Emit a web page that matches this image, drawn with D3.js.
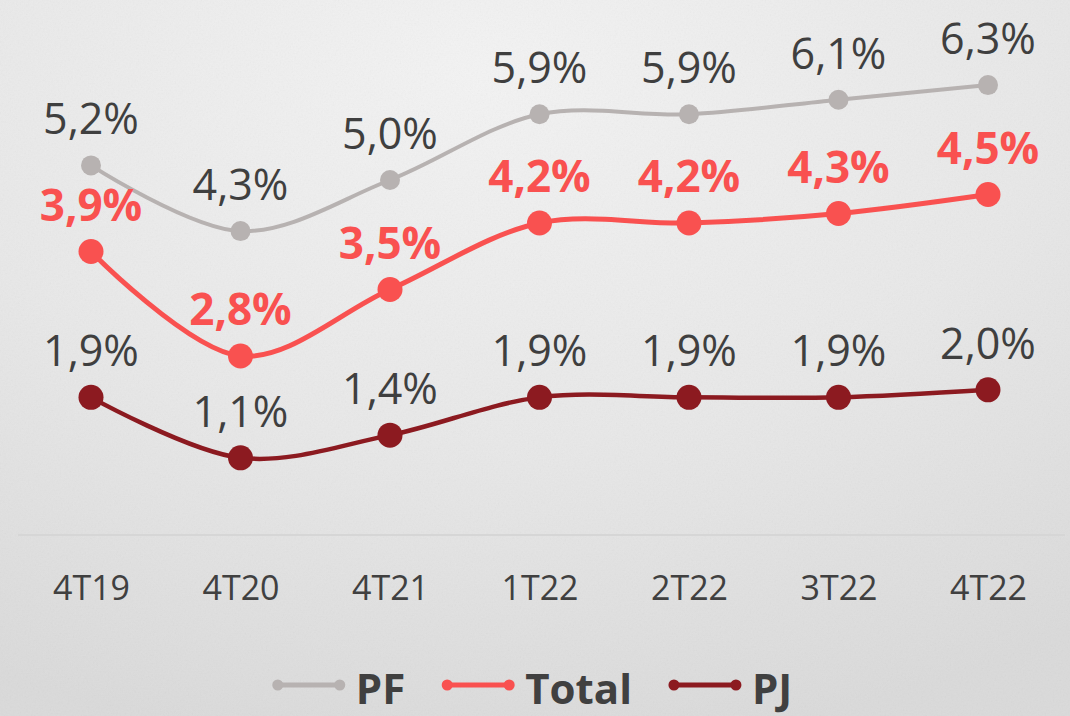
<!DOCTYPE html>
<html>
<head>
<meta charset="utf-8">
<title>Inadimplência PF / Total / PJ</title>
<script src="https://d3js.org/d3.v7.min.js"></script>
<style>
  html, body { margin: 0; padding: 0; background: #e9e9e9; }
  svg { display: block; font-family: "Open Sans", "Noto Sans", sans-serif; }
</style>
</head>
<body>
<div id="chart"></div>
<script>
// dados
const categories = ["4T19", "4T20", "4T21", "1T22", "2T22", "3T22", "4T22"];
const pf    = [5.2, 4.3, 5.0, 5.9, 5.9, 6.1, 6.3];
const total = [3.9, 2.8, 3.5, 4.2, 4.2, 4.3, 4.5];
const pj    = [1.9, 1.1, 1.4, 1.9, 1.9, 1.9, 2.0];

const width = 1070, height = 716;

const svg = d3.select("#chart").append("svg")
    .attr("width", width)
    .attr("height", height);

// fundo com gradiente + textura
const defs = svg.append("defs");
const grad = defs.append("radialGradient")
    .attr("id", "bg").attr("cx", "45%").attr("cy", "10%").attr("r", "95%");
grad.append("stop").attr("offset", "0%").attr("stop-color", "#f3f3f3");
grad.append("stop").attr("offset", "55%").attr("stop-color", "#e8e8e8");
grad.append("stop").attr("offset", "100%").attr("stop-color", "#dadada");

const noise = defs.append("filter").attr("id", "noise")
    .attr("x", 0).attr("y", 0).attr("width", "100%").attr("height", "100%");
noise.append("feTurbulence")
    .attr("type", "fractalNoise").attr("baseFrequency", 0.6).attr("numOctaves", 2);
noise.append("feColorMatrix").attr("type", "saturate").attr("values", 0);

svg.append("rect").attr("width", width).attr("height", height).attr("fill", "url(#bg)");
svg.append("rect").attr("width", width).attr("height", height)
    .attr("filter", "url(#noise)").attr("opacity", 0.08);

// escalas
const x = d3.scalePoint().domain(categories).range([91, 988]);
const yPF = d3.scaleLinear().domain([0, 7]).range([545, 34]);
const yTotal = d3.scaleLinear().domain([0, 5]).range([622, 147]);
const yPJ = d3.scaleLinear().domain([0, 2.5]).range([541, 352]);

const br = d3.formatLocale({ decimal: ",", thousands: ".", grouping: [3], currency: ["R$", ""] });
const fmt = v => br.format(".1f")(v) + "%";

// linha de base
svg.append("line")
    .attr("x1", 18).attr("x2", 1065)
    .attr("y1", 535).attr("y2", 535)
    .attr("stroke", "#d6d6d6").attr("stroke-width", 2);

// eixo x
const xAxis = svg.append("g")
    .attr("transform", "translate(0,600)")
    .call(d3.axisBottom(x).tickSize(0).tickPadding(0));
xAxis.select(".domain").remove();
xAxis.selectAll("text")
    .attr("dy", 0)
    .attr("fill", "#404040")
    .style("font-size", "34px")
    .style("font-family", "'Open Sans', sans-serif");

const series = [
    { name: "PF", values: pf, y: yPF, color: "#b7b2b1", width: 4, r: 10, label: "#3f3f3f", weight: 400 },
    { name: "Total", values: total, y: yTotal, color: "#f95150", width: 5, r: 12.5, label: "#f95150", weight: 700 },
    { name: "PJ", values: pj, y: yPJ, color: "#8c1a20", width: 4.5, r: 12.5, label: "#3f3f3f", weight: 400 }
];

series.forEach(s => {
    const line = d3.line()
        .x((d, i) => x(categories[i]))
        .y(d => s.y(d))
        .curve(d3.curveCatmullRom.alpha(0.5));

    const g = svg.append("g");
    g.append("path")
        .datum(s.values)
        .attr("d", line)
        .attr("fill", "none")
        .attr("stroke", s.color)
        .attr("stroke-width", s.width);

    g.selectAll("circle")
        .data(s.values)
        .enter().append("circle")
        .attr("cx", (d, i) => x(categories[i]))
        .attr("cy", d => s.y(d))
        .attr("r", s.r)
        .attr("fill", s.color);

    g.selectAll("text")
        .data(s.values)
        .enter().append("text")
        .attr("x", (d, i) => x(categories[i]))
        .attr("y", d => s.y(d) - 31)
        .attr("text-anchor", "middle")
        .attr("fill", s.label)
        .style("font-size", s.weight === 700 ? "44px" : "43px")
        .style("font-weight", s.weight)
        .text(d => fmt(d));
});

// legenda
const legend = svg.append("g");
let lx = 0;
series.forEach((s, i) => {
    const item = legend.append("g").attr("transform", `translate(${lx},0)`);
    item.append("line")
        .attr("x1", 0).attr("x2", 62).attr("y1", 0).attr("y2", 0)
        .attr("stroke", s.color).attr("stroke-width", 5);
    item.selectAll("circle").data([0, 62]).enter().append("circle")
        .attr("cx", d => d).attr("cy", 0).attr("r", 5.5).attr("fill", s.color);
    const t = item.append("text")
        .attr("x", 78).attr("y", 19)
        .attr("fill", "#404040")
        .style("font-size", "42px")
        .style("font-weight", 700)
        .text(s.name);
    lx += 78 + t.node().getComputedTextLength() + 42;
});
const lw = lx - 42;
legend.attr("transform", `translate(${(width - lw) / 2},685)`);
</script>
</body>
</html>
